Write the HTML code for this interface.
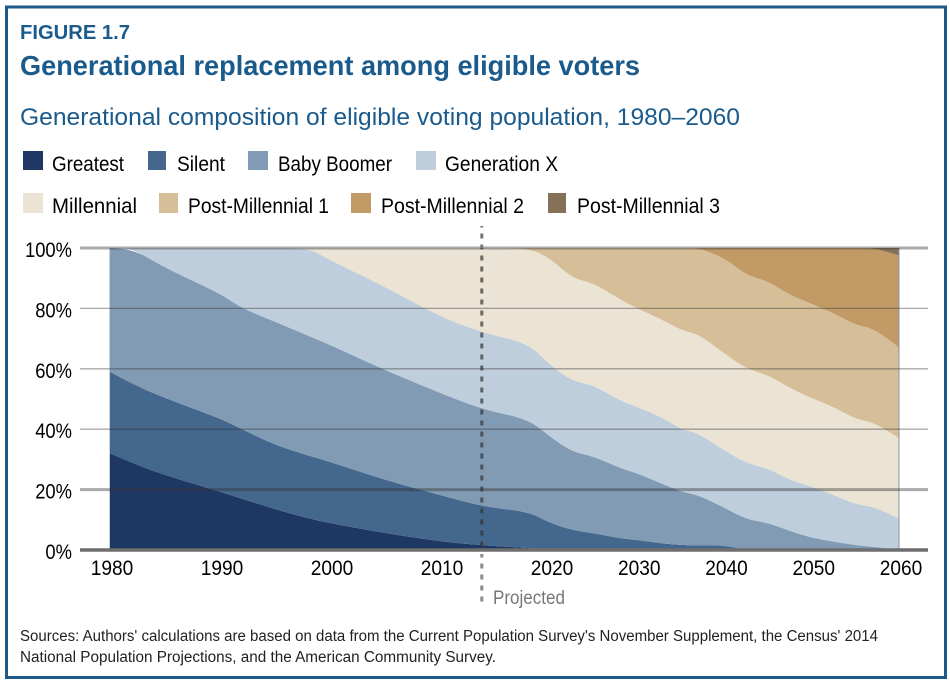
<!DOCTYPE html>
<html lang="en">
<head>
<meta charset="utf-8">
<title>Generational replacement among eligible voters</title>
<style>
html,body{margin:0;padding:0;background:#fff;width:950px;height:682px;overflow:hidden}
svg{display:block;filter:blur(0.35px)}
text{font-family:"Liberation Sans",sans-serif}
</style>
</head>
<body>
<svg id="figure" xmlns="http://www.w3.org/2000/svg" width="950" height="682" viewBox="0 0 950 682">
  <rect x="6.5" y="7" width="939" height="670.5" fill="#fff" stroke="#1d5a8a" stroke-width="3"/>
  <text x="20" y="39" font-size="20" font-weight="700" fill="#1a5b8c" textLength="110" lengthAdjust="spacingAndGlyphs">FIGURE 1.7</text>
  <text x="20" y="75" font-size="28" font-weight="700" fill="#1a5b8c" textLength="620" lengthAdjust="spacingAndGlyphs">Generational replacement among eligible voters</text>
  <text x="20" y="125" font-size="24.5" fill="#1a5b8c" textLength="720" lengthAdjust="spacingAndGlyphs">Generational composition of eligible voting population, 1980–2060</text>

  <g font-size="21" fill="#000">
    <rect x="23" y="151" width="20" height="19" fill="#1f3763"/>
    <text x="52" y="171" textLength="72" lengthAdjust="spacingAndGlyphs">Greatest</text>
    <rect x="148" y="151" width="18" height="19" fill="#44678e"/>
    <text x="177" y="171" textLength="48" lengthAdjust="spacingAndGlyphs">Silent</text>
    <rect x="248" y="151" width="20" height="19" fill="#829bb5"/>
    <text x="278" y="171" textLength="114" lengthAdjust="spacingAndGlyphs">Baby Boomer</text>
    <rect x="416" y="151" width="20" height="19" fill="#bfcedc"/>
    <text x="445" y="171" textLength="113" lengthAdjust="spacingAndGlyphs">Generation X</text>
    <rect x="23" y="193" width="20" height="20" fill="#ebe4d4"/>
    <text x="52" y="213" textLength="85" lengthAdjust="spacingAndGlyphs">Millennial</text>
    <rect x="159" y="193" width="19" height="20" fill="#d6bf98"/>
    <text x="188" y="213" textLength="141" lengthAdjust="spacingAndGlyphs">Post-Millennial 1</text>
    <rect x="351" y="193" width="20" height="20" fill="#c29a66"/>
    <text x="381" y="213" textLength="143" lengthAdjust="spacingAndGlyphs">Post-Millennial 2</text>
    <rect x="548" y="193" width="18" height="20" fill="#857158"/>
    <text x="577" y="213" textLength="143" lengthAdjust="spacingAndGlyphs">Post-Millennial 3</text>
  </g>

  <g id="plot"></g>

  <text x="493" y="604" font-size="19" fill="#777" textLength="72" lengthAdjust="spacingAndGlyphs">Projected</text>
  <g font-size="15.5" fill="#222">
    <text x="20" y="641" textLength="858" lengthAdjust="spacingAndGlyphs">Sources: Authors' calculations are based on data from the Current Population Survey's November Supplement, the Census' 2014</text>
    <text x="20" y="662" textLength="476" lengthAdjust="spacingAndGlyphs">National Population Projections, and the American Community Survey.</text>
  </g>
</svg>
<script>
var years = [1980,1982,1985,1990,1992,1995,1998,2000,2005,2010,2014,2018,2020,2022.5,2025,2028,2030,2033,2035,2037,2040,2042.5,2045,2047.5,2050,2052.5,2055,2057.5,2060];
var greatest = [32,28.8,24.8,19.3,17,13.5,10.5,8.9,5.6,2.8,1.5,0.7,0,0,0,0,0,0,0,0,0,0,0,0,0,0,0,0,0];
var silent = [27,26.2,25.5,24.3,23,21.3,20.8,20.3,17.6,15.4,12.8,12,9,6.6,5.6,3.9,3.3,2.2,1.6,1.6,1.6,0,0,0,0,0,0,0,0];
var babyBoomer = [41,45,43.1,41.4,40,40.8,39.7,38.7,36.4,33.8,32.1,30.7,28.5,26,25.4,23.3,22.1,19.6,17.7,16.6,12.4,10.2,9,6.3,4,2.8,1.6,1,0];
var generationX = [0,0,6.6,15,20,24.4,29,28.1,27.6,25.3,25.4,25.1,23.8,23.4,23.6,22.3,22,21.9,20.7,20.5,19,18.6,18,16.9,17,15.4,13.6,13,10.4];
var millennial = [0,0,0,0,0,0,0,4,12.8,22.7,28.2,31.5,35.4,34,33.8,33.5,32.6,32.3,32.8,32.8,32,31.2,30.9,30.4,29.2,29.2,28.1,28,26.6];
var postMillennial1 = [0,0,0,0,0,0,0,0,0,0,0,0,3.3,10,11.6,17,20,24,27.2,28.5,31.7,31,31.1,30.8,31.3,31,31.2,31,30];
var postMillennial2 = [0,0,0,0,0,0,0,0,0,0,0,0,0,0,0,0,0,0,0,0,3.3,9,11,15.6,18.5,21.6,25.5,27,30.5];
var postMillennial3 = [0,0,0,0,0,0,0,0,0,0,0,0,0,0,0,0,0,0,0,0,0,0,0,0,0,0,0,0,2.5];
var yTicks = [0,20,40,60,80,100];
var xTicks = [1980,1990,2000,2010,2020,2030,2040,2050,2060];
var projectedYear = 2013.8;

var stack = [
  {key:'greatest', values:greatest, color:'#1f3763'},
  {key:'silent', values:silent, color:'#44678e'},
  {key:'baby-boomer', values:babyBoomer, color:'#829bb5'},
  {key:'generation-x', values:generationX, color:'#bfcedc'},
  {key:'millennial', values:millennial, color:'#ebe4d4'},
  {key:'post-millennial-1', values:postMillennial1, color:'#d6bf98'},
  {key:'post-millennial-2', values:postMillennial2, color:'#c29a66'},
  {key:'post-millennial-3', values:postMillennial3, color:'#857158'}
];

function xScale(year){
  return year <= 2020 ? 110 + (year - 1980) * 11 : 550 + (year - 2020) * 8.725;
}
function yScale(value){
  return 550 - value * 3.02;
}

var NS = 'http://www.w3.org/2000/svg';
var plot = document.getElementById('plot');
function make(tag, attrs){
  var el = document.createElementNS(NS, tag);
  for (var k in attrs) el.setAttribute(k, attrs[k]);
  plot.appendChild(el);
  return el;
}

// Rounded boundary through the data nodes: quadratic corners between segment midpoints.
function curveSegment(pts){
  var d = '';
  for (var i = 1; i < pts.length - 1; i++) {
    var mx = (pts[i][0] + pts[i + 1][0]) / 2;
    var my = (pts[i][1] + pts[i + 1][1]) / 2;
    d += ' Q' + pts[i][0].toFixed(1) + ' ' + pts[i][1].toFixed(1) + ' ' + mx.toFixed(1) + ' ' + my.toFixed(1);
  }
  var last = pts[pts.length - 1];
  return d + ' L' + last[0].toFixed(1) + ' ' + last[1].toFixed(1);
}

var base = years.map(function(){ return 0; });
stack.forEach(function(s){
  var tops = base.map(function(b, i){ return b + s.values[i]; });
  var upper = years.map(function(y, i){ return [xScale(y), yScale(tops[i])]; });
  var lower = years.map(function(y, i){ return [xScale(y), yScale(base[i])]; }).reverse();
  var d = 'M' + upper[0][0].toFixed(1) + ' ' + upper[0][1].toFixed(1) + curveSegment(upper) +
          ' L' + lower[0][0].toFixed(1) + ' ' + lower[0][1].toFixed(1) + curveSegment(lower) + ' Z';
  var area = make('path', {d: d, fill: s.color});
  
  
  base = tops;
});

var leftEdge = make('line', {x1:xScale(1980) - 0.5, x2:xScale(1980) - 0.5, y1:yScale(100), y2:yScale(0), stroke:'#c9d2dc', 'stroke-width':1});


var rightEdge = make('line', {x1:xScale(2060), x2:xScale(2060), y1:yScale(100), y2:yScale(0), stroke:'#8d96a0', 'stroke-width':1});



yTicks.forEach(function(v){
  var heavy = v === 100 || v === 20;
  var grid = make('line', {
    x1:80, x2:928, y1:yScale(v), y2:yScale(v),
    stroke: v === 0 ? '#6e6e6e' : '#333',
    'stroke-opacity': v === 0 ? 1 : (heavy ? 0.42 : 0.42),
    'stroke-width': v === 0 ? 3.5 : (heavy ? 3 : 1.3)
  });
  
  
  var label = make('text', {x:72, y:yScale(v) + 9, 'text-anchor':'end', 'font-size':21, fill:'#000'});
  label.textContent = v + '%';
  
  
  label.setAttribute('textLength', (label.getComputedTextLength() * 0.875).toFixed(1));
  label.setAttribute('lengthAdjust', 'spacingAndGlyphs');
});

xTicks.forEach(function(y){
  var label = make('text', {x:xScale(y) + 2, y:575, 'text-anchor':'middle', 'font-size':21, fill:'#000'});
  label.textContent = y;
  
  
  label.setAttribute('textLength', (label.getComputedTextLength() * 0.91).toFixed(1));
  label.setAttribute('lengthAdjust', 'spacingAndGlyphs');
});

var divider = make('line', {x1:xScale(projectedYear), x2:xScale(projectedYear), y1:yScale(100), y2:yScale(0), stroke:'#333', 'stroke-width':3, 'stroke-dasharray':'5 6', 'stroke-dashoffset':3.5, 'stroke-opacity':0.7});


var dividerTop = make('line', {x1:xScale(projectedYear), x2:xScale(projectedYear), y1:226, y2:yScale(100), stroke:'#777', 'stroke-width':3, 'stroke-dasharray':'5 6', 'stroke-dashoffset':3.5});


var dividerBottom = make('line', {x1:xScale(projectedYear), x2:xScale(projectedYear), y1:yScale(0) + 4, y2:606, stroke:'#8a8a8a', 'stroke-width':3, 'stroke-dasharray':'5 6', 'stroke-dashoffset':1.5});


</script>
</body>
</html>
